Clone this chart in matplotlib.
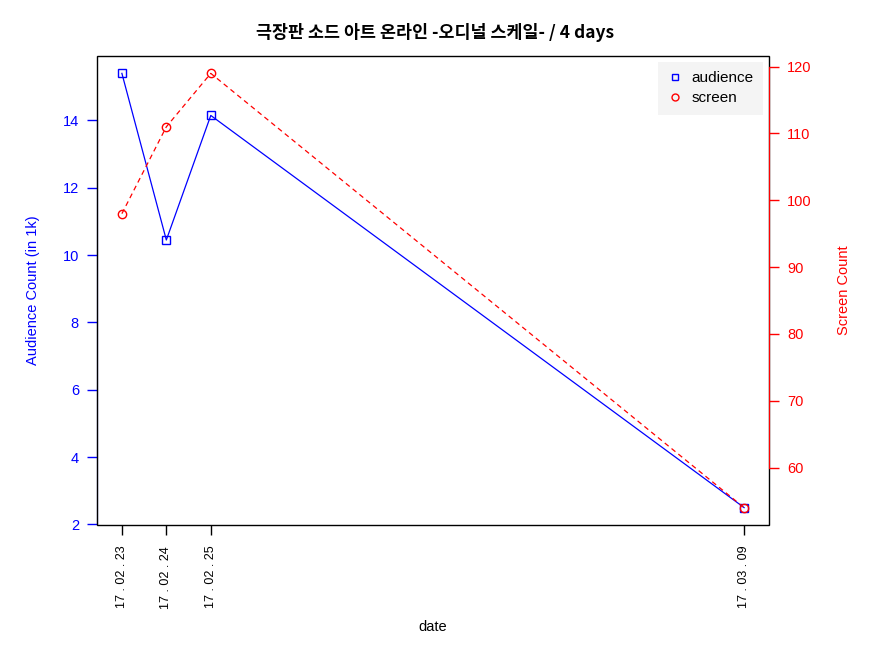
import datetime as dt
import matplotlib.pyplot as plt
from matplotlib.lines import Line2D
from matplotlib.patches import Rectangle

plt.rcParams['font.family'] = ['Liberation Sans', 'Noto Sans CJK KR', 'DejaVu Sans']

dates = ["2017-02-23", "2017-02-24", "2017-02-25", "2017-03-09"]
date_labels = ["17 . 02 . 23", "17 . 02 . 24", "17 . 02 . 25", "17 . 03 . 09"]
audience = [15.4, 10.45, 14.15, 2.5]
screens = [98, 111, 119, 54]
title = "극장판 소드 아트 온라인 -오디널 스케일- / 4 days"

d0 = dt.date.fromisoformat(dates[0])
x = [(dt.date.fromisoformat(d) - d0).days for d in dates]


def padded(lo, hi, frac=0.04):
    r = hi - lo
    return lo - r * frac, hi + r * frac


fig = plt.figure(figsize=(8.7, 6.53), dpi=100)
ax = fig.add_axes([97 / 870, 1 - 525 / 653, 672 / 870, 469 / 653])
ax2 = ax.twinx()

ax.plot(x, audience, color="blue", lw=0.9, marker="s", ms=6, mfc="none",
        mec="blue", mew=1)
ax2.plot(x, screens, color="red", lw=0.9, ls=(0, (4, 3)), marker="o", ms=6,
         mfc="none", mec="red", mew=1)

ax.set_xlim(*padded(min(x), max(x)))
ax.set_ylim(*padded(min(audience), max(audience)))
ax2.set_ylim(*padded(min(screens), max(screens)))

# black box, colored axis lines only between first and last tick
ax2.add_patch(Rectangle((0, 0), 1, 1, transform=ax2.transAxes, fill=False,
                        ec="black", lw=1, zorder=0.5, clip_on=False))
for sp in ["top", "bottom"]:
    ax.spines[sp].set_visible(False)
    ax2.spines[sp].set_visible(False)
ax.spines["right"].set_visible(False)
ax2.spines["left"].set_visible(False)

ax.set_yticks(range(2, 15, 2))
ax.spines["left"].set_bounds(2, 14)
ax.spines["left"].set_color("blue")
ax.tick_params(axis="y", colors="blue", length=7, width=1, labelsize=10.5, pad=6)

ax2.set_yticks(range(60, 121, 10))
ax2.spines["right"].set_bounds(60, 120)
ax2.spines["right"].set_color("red")
ax2.tick_params(axis="y", colors="red", length=7, width=1, labelsize=10.5, pad=6)

ax.set_xticks(x)
ax.set_xticklabels(date_labels, rotation=90, fontsize=9)
ax.tick_params(axis="x", length=7, width=1, pad=8)

ax.set_xlabel("date", fontsize=10.5, labelpad=8)
ax.set_ylabel("Audience Count (in 1k)", color="blue", fontsize=10.5, labelpad=16)
ax2.set_ylabel("Screen Count", color="red", fontsize=10.5, labelpad=18)

fig.suptitle(title, fontsize=12.5, fontweight="bold", y=1 - 32 / 653, va="center",
             family=['Noto Sans CJK KR', 'DejaVu Sans'])

handles = [
    Line2D([], [], ls="none", marker="s", ms=5, mfc="none", mec="blue", mew=1),
    Line2D([], [], ls="none", marker="o", ms=5, mfc="none", mec="red", mew=1),
]
ax2.legend(handles, ["audience", "screen"], loc="upper right", fontsize=11,
           frameon=True, fancybox=False, facecolor="#f4f4f4",
           edgecolor="none", framealpha=1, handlelength=1.0,
           handletextpad=0.6, borderaxespad=0.4, borderpad=0.6,
           labelspacing=0.4)

fig.savefig("out.png", dpi=100)
